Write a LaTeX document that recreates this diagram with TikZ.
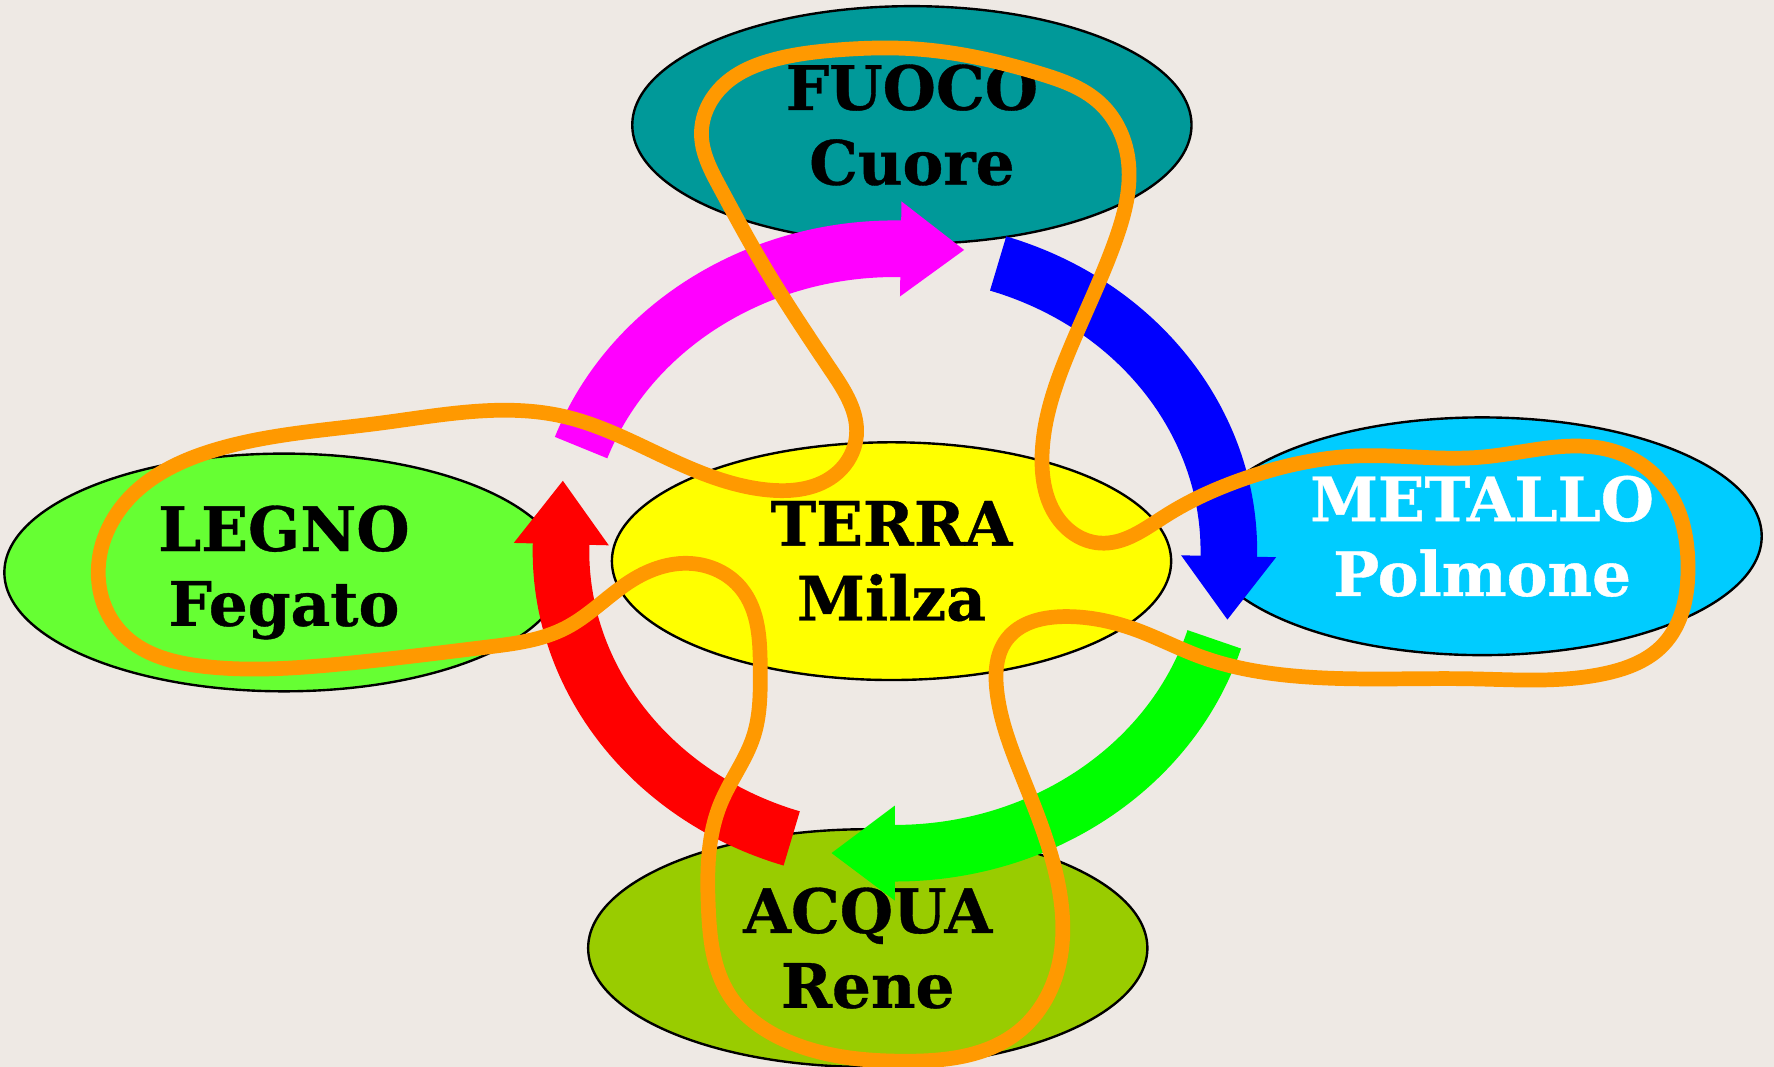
\documentclass[tikz,border=0pt]{standalone}
\usepackage{fontspec}
\setmainfont[BoldFeatures={FakeBold=0.6}]{DejaVu Serif}
\usetikzlibrary{shapes.geometric,hobby}
\definecolor{bgc}{RGB}{238,233,228}
\definecolor{teal1}{RGB}{0,153,153}
\definecolor{yel1}{RGB}{255,255,0}
\definecolor{cyan1}{RGB}{0,204,255}
\definecolor{lime1}{RGB}{102,255,51}
\definecolor{olive1}{RGB}{153,204,0}
\definecolor{mag1}{RGB}{255,0,255}
\definecolor{blue1}{RGB}{0,0,255}
\definecolor{green1}{RGB}{0,255,0}
\definecolor{red1}{RGB}{255,0,0}
\definecolor{orange1}{RGB}{255,153,0}
\tikzset{
  elem/.style={ellipse, draw=black, line width=0.6pt, inner sep=0pt,
    minimum width=4.94cm, minimum height=2.1cm, align=center,
    font=\fontsize{15.4}{18.8}\selectfont\bfseries},
  ringshaft/.style={line width=0.5cm},
  orangeloop/.style={draw=orange1, line width=0.13cm, line join=round}
}
\newcommand\ringarrow[3]{%
  \pgfmathsetmacro\rbx{791+295*cos(#3)}%
  \pgfmathsetmacro\rby{487-267*sin(#3)}%
  \pgfmathsetmacro\rdx{295*sin(#3)}%
  \pgfmathsetmacro\rdy{267*cos(#3)}%
  \pgfmathsetmacro\rdl{veclen(\rdx,\rdy)}%
  \pgfmathsetmacro\rux{\rdx/\rdl}%
  \pgfmathsetmacro\ruy{\rdy/\rdl}%
  \draw[ringshaft,#1] (ringc) ++(#2:2.95cm and 2.67cm)
     arc[start angle=#2,end angle={#3-0.5},x radius=2.95cm,y radius=2.67cm];
  \fill[#1] ({\rbx-42*(\ruy)},{\rby+42*(\rux)}) -- ({\rbx+56*(\rux)},{\rby+56*(\ruy)})
     -- ({\rbx+42*(\ruy)},{\rby-42*(\rux)}) -- cycle;
}
\begin{document}
\begin{tikzpicture}[x=0.01cm,y=-0.01cm]
\fill[bgc] (0,0) rectangle (1568,943);
\useasboundingbox (0,0) rectangle (1568,943);
\coordinate (ringc) at (791,487);
% elements
\node[elem, fill=teal1] (fuoco) at (806,110.5) {FUOCO\\Cuore};
\node[elem, fill=yel1] (terra) at (788,496) {TERRA\\Milza};
\node[elem, fill=cyan1, text=white] (metallo) at (1310,474) {METALLO\\Polmone};
\node[elem, fill=lime1] (legno) at (251,506) {LEGNO\\Fegato};
\node[elem, fill=olive1] (acqua) at (767,838) {ACQUA\\Rene};
% ring of arrows
\ringarrow{mag1}{160}{89}
\ringarrow{blue1}{72}{-1}
\ringarrow{green1}{-17}{-90}
\ringarrow{red1}{252}{178.7}
% orange loop
\draw[orangeloop, use Hobby shortcut, closed=true]
 (805,43) .. (919,65) .. (972,91) .. (997,140) .. (985,215) .. (945,310)
 .. (921,405) .. (935,458) .. (972,480) .. (1030,456) .. (1100,423)
 .. (1200,403) .. (1310,404) .. (1430,400) .. (1478,440) .. (1492,500)
 .. (1470,570) .. (1420,595) .. (1300,600) .. (1150,598) .. (1060,580)
 .. (1005,557) .. (940,545) .. (890,565) .. (881,610) .. (905,690)
 .. (935,780) .. (934,860) .. (900,912) .. (800,938) .. (700,922)
 .. (645,880) .. (626,800) .. (637,710) .. (666,651) .. (672,592)
 .. (655,520) .. (610,498) .. (560,512) .. (500,555) .. (430,572)
 .. (300,587) .. (180,589) .. (110,562) .. (88,520) .. (110,445)
 .. (189,398) .. (336,374) .. (498,368) .. (590,405) .. (678,433)
 .. (740,418) .. (757,385) .. (735,328) .. (672,230) .. (636,165)
 .. (620,118) .. (642,73) .. (683,53) .. (742,44);
\end{tikzpicture}
\end{document}
